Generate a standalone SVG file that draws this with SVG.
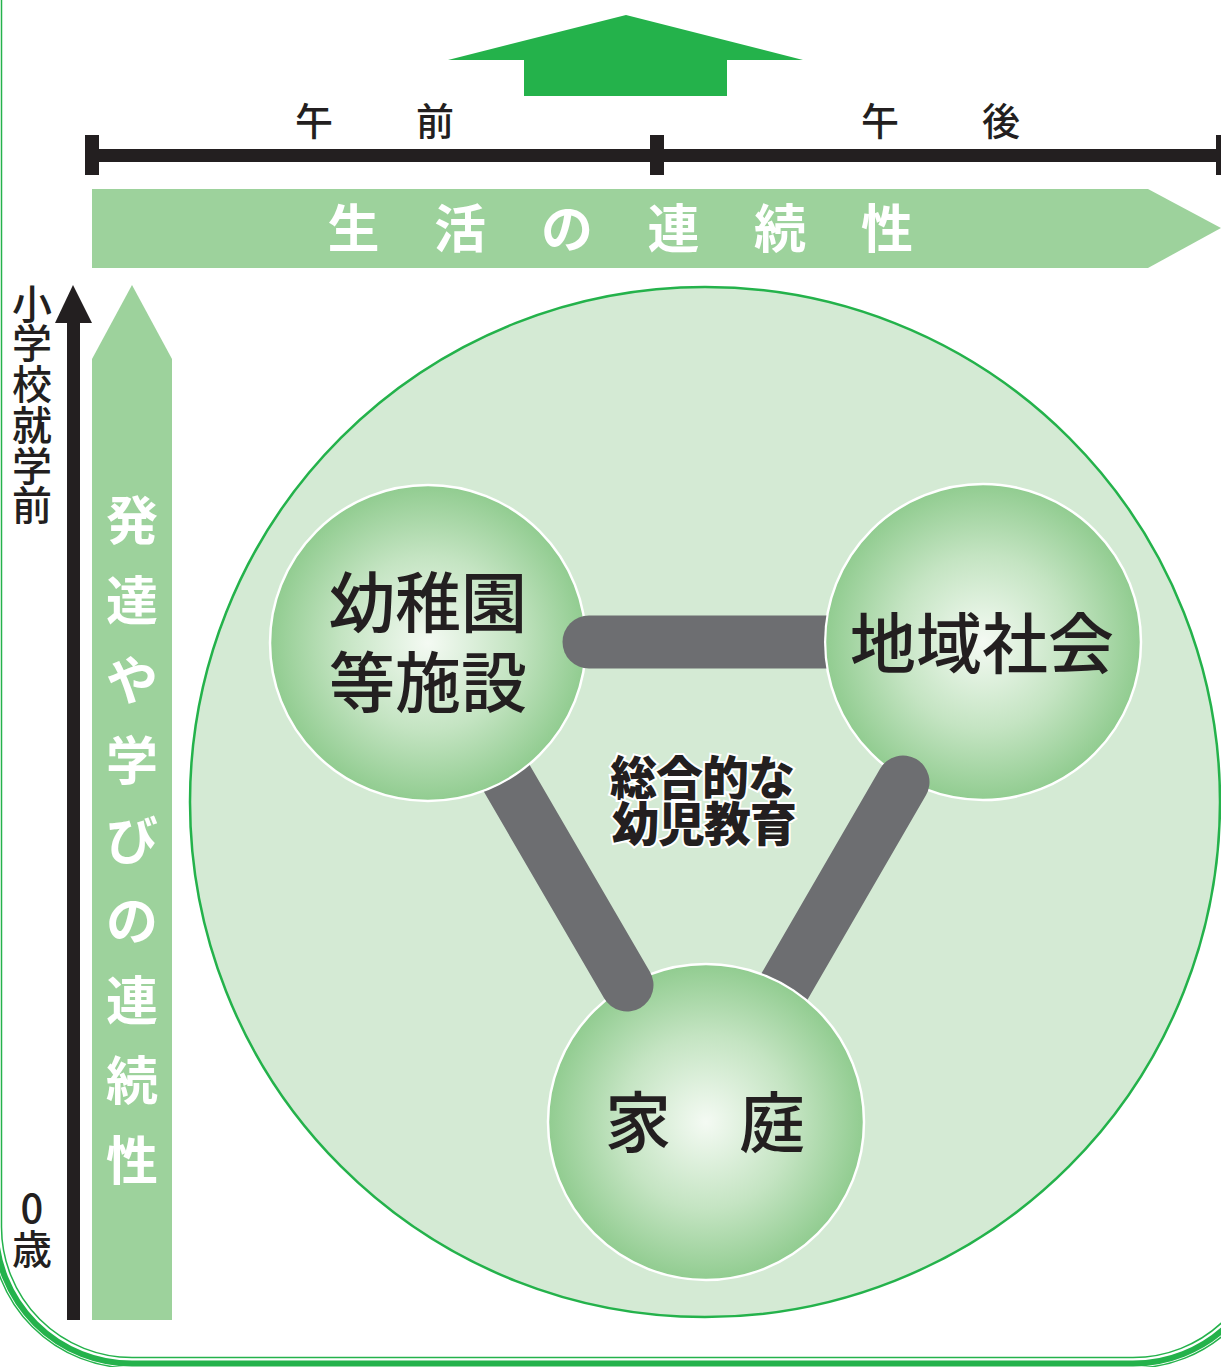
<svg xmlns="http://www.w3.org/2000/svg" width="1221" height="1367" viewBox="0 0 1221 1367">
<style>
.jp{font-family:"Noto Sans CJK JP","Noto Sans CJK SC",sans-serif}
.node-label{font-size:66px;font-weight:500;fill:#231f20;text-anchor:middle}
.small{font-size:38px;font-weight:500;fill:#231f20;text-anchor:middle}
.white{font-size:52px;font-weight:700;fill:#ffffff;text-anchor:middle}
.side{font-size:40px;font-weight:500;fill:#231f20;text-anchor:middle}
.node-circle{fill:url(#ng);stroke:#ffffff;stroke-width:2.5}
.bar{stroke:#6d6e71;stroke-width:53;stroke-linecap:round;fill:none}
.frame{fill:none;stroke:#24b24b}
.center{font-size:47px;font-weight:900;fill:#231f20;text-anchor:middle;stroke:#ffffff;stroke-width:4;paint-order:stroke;letter-spacing:-1px}
</style>
<defs>
<radialGradient id="ng" cx="50%" cy="50%" r="50%">
<stop offset="0" stop-color="#f4faf3"/>
<stop offset="0.55" stop-color="#c4e4c2"/>
<stop offset="1" stop-color="#91cc90"/>
</radialGradient>
<mask id="mk-chiiki" maskUnits="userSpaceOnUse" x="0" y="0" width="1221" height="1367">
<rect width="1221" height="1367" fill="#fff"/>
<circle cx="983" cy="642" r="159" fill="#000"/>
</mask>
<mask id="mk-youchi" maskUnits="userSpaceOnUse" x="0" y="0" width="1221" height="1367">
<rect width="1221" height="1367" fill="#fff"/>
<circle cx="428" cy="643" r="159" fill="#000"/>
</mask>
<mask id="mk-katei" maskUnits="userSpaceOnUse" x="0" y="0" width="1221" height="1367">
<rect width="1221" height="1367" fill="#fff"/>
<circle cx="706" cy="1122" r="159" fill="#000"/>
</mask>
</defs>
<rect width="1221" height="1367" fill="#ffffff"/>

<g id="frame">
<path class="frame" stroke-width="1.5" d="M1.5 0 L1.5 1227 A130.5 130.5 0 0 0 132 1357.5 L1133 1357.5 A130.5 130.5 0 0 0 1263.5 1227"/>
<path class="frame" stroke-width="6" d="M-4.5 0 L-4.5 1227 A136.5 136.5 0 0 0 132 1363.5 L1133 1363.5 A136.5 136.5 0 0 0 1269.5 1227"/>
<path class="frame" stroke-width="1.5" d="M-9 0 L-9 1227 A141 141 0 0 0 132 1368 L1133 1368 A141 141 0 0 0 1274 1227"/>
</g>

<polygon id="top-arrow" points="626,15 803,60 727,60 727,96 524,96 524,60 448,60" fill="#24b24b"/>

<g id="timeline" fill="#231f20">
<rect x="86" y="149" width="1135" height="13"/>
<rect x="85" y="135" width="14" height="40"/>
<rect x="650" y="135" width="14" height="40"/>
<rect x="1216" y="135" width="6" height="40"/>
<text class="jp small" x="314" y="135">午</text>
<text class="jp small" x="435" y="135">前</text>
<text class="jp small" x="880" y="135">午</text>
<text class="jp small" x="1001" y="135">後</text>
</g>

<g id="life-arrow">
<polygon points="92,189 1148,189 1221,228 1148,268 92,268" fill="#9dd29c"/>
<text class="jp white" x="353.5 460 567 673.5 780 887" y="248 248 248 248 248 248">生活の連続性</text>
</g>

<g id="age-axis">
<rect x="67" y="318" width="13" height="1002" fill="#231f20"/>
<polygon points="73,285 92,323 55,323" fill="#231f20"/>
<text class="jp side" x="32 32 32 32 32 32" y="319 358 399 440 481 520">小学校就学前</text>
<text class="jp side" x="32" y="1223">0<tspan x="32" y="1264">歳</tspan></text>
</g>

<g id="growth-arrow">
<polygon points="132,285 172,359 172,1320 92,1320 92,359" fill="#9dd29c"/>
<text class="jp white" x="132 132 132 132 132 132 132 132 132" y="540 620 700 780 860 940 1020 1100 1180">発達や学びの連続性</text>
</g>

<circle id="whole" cx="705" cy="802" r="515" fill="#d4ead4" stroke="#24b24b" stroke-width="2.5"/>

<g id="node-youchien">
<circle class="node-circle" cx="428" cy="643" r="158"/>
<text class="jp node-label" x="428" y="627">幼稚園<tspan x="428" y="707">等施設</tspan></text>
</g>

<g id="node-chiiki">
<circle class="node-circle" cx="983" cy="642" r="158"/>
<text class="jp node-label" x="982" y="668">地域社会</text>
</g>

<g id="node-katei">
<circle class="node-circle" cx="706" cy="1122" r="158"/>
<text class="jp node-label" x="638 772" y="1147 1147">家庭</text>
</g>

<g id="connectors">
<line class="bar" x1="589" y1="642" x2="983" y2="642" mask="url(#mk-chiiki)"/>
<line class="bar" x1="627" y1="985" x2="428" y2="643" mask="url(#mk-youchi)"/>
<line class="bar" x1="903" y1="782" x2="706" y2="1122" mask="url(#mk-katei)"/>
</g>

<g id="center-label">
<text class="jp center" x="702" y="795">総合的な<tspan x="704" y="841">幼児教育</tspan></text>
</g>
</svg>
